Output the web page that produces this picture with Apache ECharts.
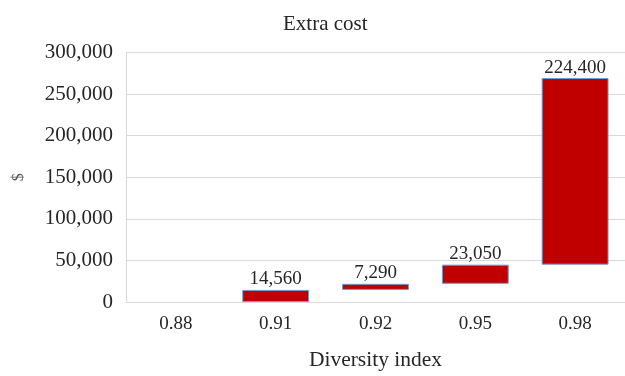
<!DOCTYPE html>
<html>
<head>
<meta charset="utf-8">
<script src="https://cdn.jsdelivr.net/npm/echarts@6/dist/echarts.min.js"></script>
<style>
  html, body { margin: 0; padding: 0; background: #fff; }
  #chart { width: 625px; height: 376px; }
</style>
</head>
<body>
<div id="chart"></div>
<script>
// Diversity index steps and the extra cost added at each step
const categories = ['0.88', '0.91', '0.92', '0.95', '0.98'];
const increments = [0, 14560, 7290, 23050, 224400];
const yTicks = { min: 0, max: 300000, interval: 50000 };

// Invisible base for each step = running total before it
const bases = [];
let running = 0;
for (const v of increments) { bases.push(running); running += v; }

const serif = '"Liberation Serif", "Times New Roman", serif';
const fmt = v => v.toLocaleString('en-US');

const chart = echarts.init(document.getElementById('chart'), null, { renderer: 'canvas' });
chart.setOption({
  animation: false,
  title: {
    text: 'Extra cost', left: 278, top: 9,
    textStyle: { fontFamily: serif, fontSize: 21, fontWeight: 'normal', color: '#262626' }
  },
  grid: { left: 126, right: -8.5, top: 52.5, bottom: 66, containLabel: false },
  xAxis: {
    type: 'category', data: categories,
    name: 'Diversity index', nameLocation: 'middle', nameGap: 47,
    nameTextStyle: { fontFamily: serif, fontSize: 21.5, color: '#262626' },
    axisLine: { lineStyle: { color: '#d9d9d9' } },
    axisTick: { show: false },
    axisLabel: { fontFamily: serif, fontSize: 19, color: '#262626', margin: 13 }
  },
  yAxis: {
    type: 'value', min: yTicks.min, max: yTicks.max, interval: yTicks.interval,
    name: '$', nameLocation: 'middle', nameGap: 99, nameRotate: 90,
    nameTextStyle: { fontFamily: serif, fontSize: 16, color: '#595959' },
    axisLine: { show: true, lineStyle: { color: '#d9d9d9' } },
    axisTick: { show: false },
    splitLine: { lineStyle: { color: '#d9d9d9' } },
    axisLabel: { fontFamily: serif, fontSize: 21, color: '#262626', margin: 13, formatter: fmt }
  },
  series: [
    {
      type: 'bar', stack: 'wf', data: bases, barWidth: '67%',
      itemStyle: { color: 'transparent' }, silent: true
    },
    {
      type: 'bar', stack: 'wf', barWidth: '67%',
      // a zero step draws no bar
      data: increments.map(v => (v === 0 ? '-' : v)),
      itemStyle: { color: '#c00000', borderColor: '#6f9bd1', borderWidth: 1 },
      label: {
        show: true, position: 'top', distance: 1,
        fontFamily: serif, fontSize: 19, color: '#262626',
        formatter: p => fmt(p.value)
      }
    }
  ]
});
</script>
</body>
</html>
